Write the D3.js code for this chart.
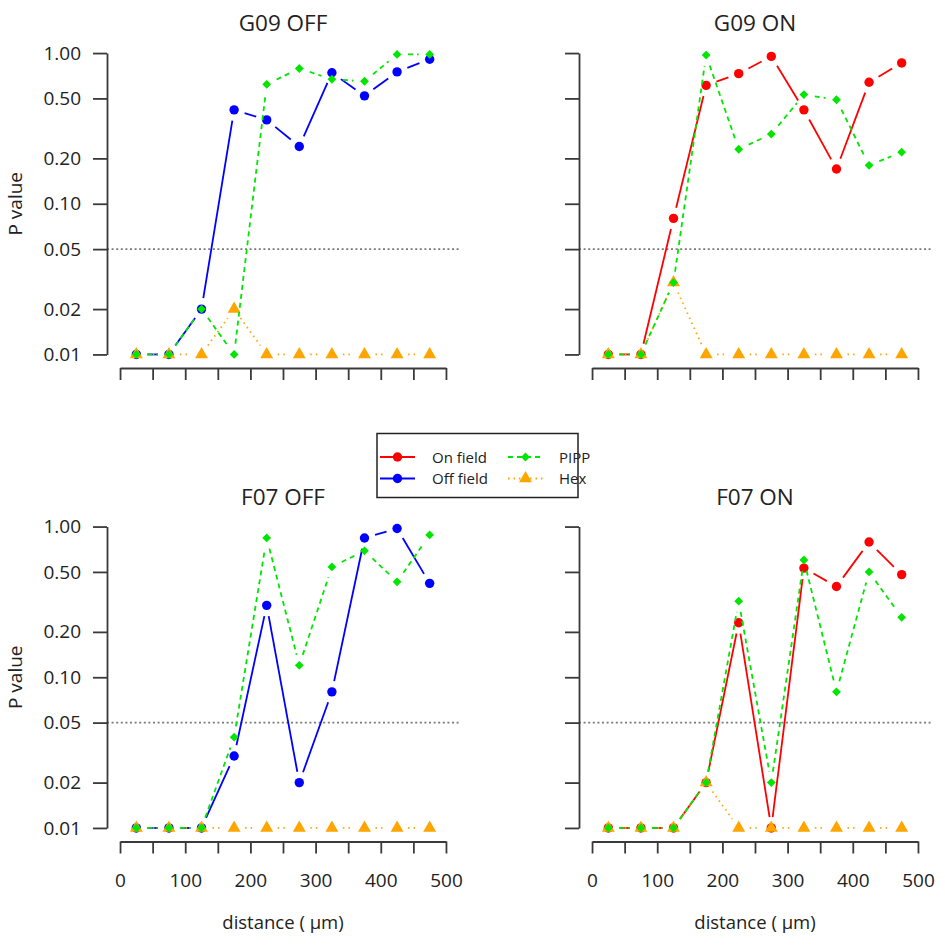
<!DOCTYPE html>
<html><head><meta charset="utf-8">
<script src="https://cdn.jsdelivr.net/npm/d3@7"></script>
<style>
body{margin:0;background:#fff}
svg text{font-family:"Open Sans","Noto Sans",sans-serif;fill:#222}
</style>
</head><body>
<svg id="chart" width="945" height="947"></svg>
<script>
// ---------- data ----------
const distances = [25, 75, 125, 175, 225, 275, 325, 375, 425, 475];
const xTicks = [0, 50, 100, 150, 200, 250, 300, 350, 400, 450, 500];
const xTickLabels = ["0", "", "100", "", "200", "", "300", "", "400", "", "500"];
const yTicks = [0.01, 0.02, 0.05, 0.1, 0.2, 0.5, 1];
const yTickLabels = ["0.01", "0.02", "0.05", "0.10", "0.20", "0.50", "1.00"];
const panelTitles = ["G09 OFF", "G09 ON", "F07 OFF", "F07 ON"];
const seriesNames = ["On field", "Off field", "PIPP", "Hex"];
const threshold = 0.05;

const g09OffField = [0.01, 0.01, 0.02, 0.42, 0.36, 0.24, 0.74, 0.52, 0.75, 0.91];
const g09OffPipp  = [0.01, 0.01, 0.02, 0.01, 0.62, 0.79, 0.67, 0.65, 0.98, 0.98];
const g09OffHex   = [0.01, 0.01, 0.01, 0.02, 0.01, 0.01, 0.01, 0.01, 0.01, 0.01];

const g09OnField  = [0.01, 0.01, 0.08, 0.61, 0.73, 0.95, 0.42, 0.17, 0.64, 0.86];
const g09OnPipp   = [0.01, 0.01, 0.03, 0.97, 0.23, 0.29, 0.53, 0.49, 0.18, 0.22];
const g09OnHex    = [0.01, 0.01, 0.03, 0.01, 0.01, 0.01, 0.01, 0.01, 0.01, 0.01];

const f07OffField = [0.01, 0.01, 0.01, 0.03, 0.30, 0.02, 0.08, 0.84, 0.97, 0.42];
const f07OffPipp  = [0.01, 0.01, 0.01, 0.04, 0.84, 0.12, 0.54, 0.69, 0.43, 0.88];
const f07OffHex   = [0.01, 0.01, 0.01, 0.01, 0.01, 0.01, 0.01, 0.01, 0.01, 0.01];

const f07OnField  = [0.01, 0.01, 0.01, 0.02, 0.23, 0.01, 0.53, 0.40, 0.79, 0.48];
const f07OnPipp   = [0.01, 0.01, 0.01, 0.02, 0.32, 0.02, 0.60, 0.08, 0.50, 0.25];
const f07OnHex    = [0.01, 0.01, 0.01, 0.02, 0.01, 0.01, 0.01, 0.01, 0.01, 0.01];

// ---------- styles ----------
const colOn = "#ff0000", colOff = "#0000ff", colPipp = "#00e600", colHex = "#ffa500";
const dashPipp = "5,4", dashHex = "1.5,4";
const GAP = 11;
const font = '"Open Sans","Noto Sans",sans-serif';

const panels = [
  {title: panelTitles[0], left: 107, top: 41,  field: g09OffField, fcol: colOff, pipp: g09OffPipp, hex: g09OffHex, yLab: true,  xLab: false},
  {title: panelTitles[1], left: 579, top: 41,  field: g09OnField,  fcol: colOn,  pipp: g09OnPipp,  hex: g09OnHex,  yLab: false, xLab: false},
  {title: panelTitles[2], left: 107, top: 514.5, field: f07OffField, fcol: colOff, pipp: f07OffPipp, hex: f07OffHex, yLab: true,  xLab: true},
  {title: panelTitles[3], left: 579, top: 514.5, field: f07OnField,  fcol: colOn,  pipp: f07OnPipp,  hex: f07OnHex,  yLab: false, xLab: true}
];
const PW = 352, PH = 325.5;

const svg = d3.select("#chart");

function typeB(g, xs, ys, color, dash) {
  const pts = xs.map((d, i) => [d, ys[i]]);
  for (let i = 1; i < pts.length; i++) {
    const [x0, y0] = pts[i - 1], [x1, y1] = pts[i];
    const L = Math.hypot(x1 - x0, y1 - y0);
    const f = GAP / L;
    if (f < 0.5) {
      g.append("line")
        .attr("x1", x0 + f * (x1 - x0)).attr("y1", y0 + f * (y1 - y0))
        .attr("x2", x1 - f * (x1 - x0)).attr("y2", y1 - f * (y1 - y0))
        .attr("stroke", color).attr("stroke-width", 1.8)
        .attr("stroke-dasharray", dash || null);
    }
  }
}
function marker(g, kind, x, y, color) {
  if (kind === "circle") {
    g.append("circle").attr("cx", x).attr("cy", y).attr("r", 4.7).attr("fill", color);
  } else if (kind === "diamond") {
    const s = 4.4;
    g.append("path").attr("d", `M${x},${y - s}L${x + s},${y}L${x},${y + s}L${x - s},${y}Z`).attr("fill", color);
  } else {
    const xc = 4.8;
    g.append("path").attr("d", `M${x},${y - 1.555 * xc}L${x + 1.3468 * xc},${y + 0.7776 * xc}L${x - 1.3468 * xc},${y + 0.7776 * xc}Z`).attr("fill", color);
  }
}

panels.forEach(p => {
  const g = svg.append("g");
  const x = d3.scaleLinear().domain([-20, 520]).range([p.left, p.left + PW]);
  const y = d3.scaleLog().domain([Math.pow(10, -2.08), Math.pow(10, 0.08)]).range([p.top + PH, p.top]);
  const bottom = p.top + PH;

  // title
  g.append("text").attr("x", x(250)).attr("y", p.top - 10)
    .attr("text-anchor", "middle").attr("font-size", 22.5).text(p.title);

  // threshold line
  g.append("line").attr("x1", p.left).attr("x2", p.left + PW)
    .attr("y1", y(threshold)).attr("y2", y(threshold))
    .attr("stroke", "#7a7a7a").attr("stroke-width", 1.6).attr("stroke-dasharray", "2,2.6");

  // y axis
  const ya = d3.axisLeft(y.copy().domain([0.01, 1]).range([y(0.01), y(1)]))
    .tickValues(yTicks).tickFormat((d, i) => p.yLab ? yTickLabels[i] : "")
    .tickSize(14).tickSizeOuter(0).tickPadding(12);
  const yg = g.append("g").attr("transform", `translate(${p.left},0)`).call(ya);
  yg.select(".domain").attr("stroke", "#3a3a3a").attr("stroke-width", 1.8);
  yg.selectAll(".tick line").attr("stroke", "#3a3a3a").attr("stroke-width", 1.8);
  yg.selectAll(".tick text").attr("font-size", 19).attr("font-family", font).attr("fill", "#222");

  // x axis
  const xa = d3.axisBottom(x.copy().domain([0, 500]).range([x(0), x(500)]))
    .tickValues(xTicks).tickFormat((d, i) => p.xLab ? xTickLabels[i] : "")
    .tickSize(12).tickSizeOuter(0);
  const xg = g.append("g").attr("transform", `translate(0,${bottom + 1.5})`).call(xa);
  xg.select(".domain").attr("stroke", "#3a3a3a").attr("stroke-width", 1.8);
  xg.selectAll(".tick line").attr("stroke", "#3a3a3a").attr("stroke-width", 1.8);
  xg.selectAll(".tick text").attr("font-size", 19).attr("font-family", font).attr("fill", "#222")
    .attr("y", 45.5).attr("dy", null);

  if (p.xLab) {
    g.append("text").attr("x", x(250)).attr("y", bottom + 88.5)
      .attr("text-anchor", "middle").attr("font-size", 18.5).text("distance ( \u00b5m)");
  }
  if (p.yLab) {
    const cy = (y(0.01) + y(1)) / 2;
    g.append("text").attr("transform", `translate(22,${cy}) rotate(-90)`)
      .attr("text-anchor", "middle").attr("font-size", 19).text("P value");
  }

  const xs = distances.map(d => x(d));
  // field series
  typeB(g, xs, p.field.map(v => y(v)), p.fcol, null);
  p.field.forEach((v, i) => marker(g, "circle", xs[i], y(v), p.fcol));
  // hex
  typeB(g, xs, p.hex.map(v => y(v)), colHex, dashHex);
  p.hex.forEach((v, i) => marker(g, "triangle", xs[i], y(v), colHex));
  // pipp
  typeB(g, xs, p.pipp.map(v => y(v)), colPipp, dashPipp);
  p.pipp.forEach((v, i) => marker(g, "diamond", xs[i], y(v), colPipp));
});

// ---------- legend ----------
const lg = svg.append("g");
lg.append("rect").attr("x", 377).attr("y", 433.5).attr("width", 201).attr("height", 64)
  .attr("fill", "#fff").attr("stroke", "#222").attr("stroke-width", 1.5);
const legendItems = [
  {name: seriesNames[0], color: colOn, dash: null, kind: "circle", lx: 380, tx: 432, ty: 457},
  {name: seriesNames[1], color: colOff, dash: null, kind: "circle", lx: 380, tx: 432, ty: 478.5},
  {name: seriesNames[2], color: colPipp, dash: dashPipp, kind: "diamond", lx: 508, tx: 559, ty: 457},
  {name: seriesNames[3], color: colHex, dash: dashHex, kind: "triangle", lx: 508, tx: 559, ty: 478.5}
];
legendItems.forEach(it => {
  lg.append("line").attr("x1", it.lx).attr("x2", it.lx + 35).attr("y1", it.ty).attr("y2", it.ty)
    .attr("stroke", it.color).attr("stroke-width", 1.8).attr("stroke-dasharray", it.dash);
  marker(lg, it.kind, it.lx + 17.5, it.ty, it.color);
  lg.append("text").attr("x", it.tx).attr("y", it.ty + 5.5).attr("font-size", 15).text(it.name);
});
</script>
</body></html>
